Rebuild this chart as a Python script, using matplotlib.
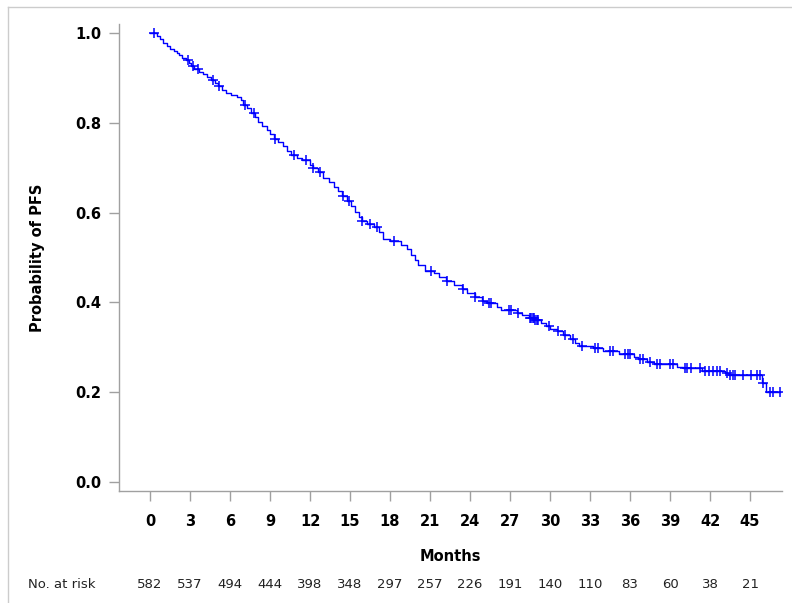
import numpy as np
import matplotlib
matplotlib.use("Agg")
import matplotlib.pyplot as plt
from matplotlib.lines import Line2D

# Kaplan-Meier step points (month, survival after the drop)
event_months = [0.0, 0.5, 0.75, 1.0, 1.25, 1.5, 1.8, 2.0, 2.2, 2.4, 2.7, 2.9,
                3.1, 3.3, 3.7, 4.0, 4.3, 4.6, 4.9, 5.1, 5.4, 5.7, 6.1, 6.5,
                6.8, 7.0, 7.3, 7.6, 7.9, 8.1, 8.4, 8.75, 9.0, 9.3, 9.6, 10.0,
                10.3, 10.6, 11.0, 11.4, 12.0, 12.2, 12.6, 13.0, 13.4, 13.8,
                14.1, 14.4, 14.8, 15.1, 15.4, 15.7, 15.9, 16.3, 16.8, 17.2,
                17.5, 18.0, 18.8, 19.3, 19.6, 19.9, 20.1, 20.6, 21.3, 21.7,
                22.2, 22.8, 23.4, 23.8, 24.4, 24.9, 25.3, 26.0, 26.3, 27.5,
                27.9, 28.4, 28.9, 29.3, 29.7, 30.0, 30.5, 31.0, 31.5, 31.9,
                32.2, 33.2, 34.0, 35.2, 36.3, 36.6, 37.3, 37.8, 39.5, 40.0,
                41.4, 43.1, 43.4, 45.9, 46.2]
survival = [1.0, 0.993, 0.986, 0.977, 0.970, 0.964, 0.959, 0.955, 0.950, 0.945,
            0.940, 0.934, 0.926, 0.920, 0.914, 0.908, 0.902, 0.896, 0.889,
            0.882, 0.874, 0.866, 0.861, 0.857, 0.850, 0.840, 0.832, 0.822,
            0.812, 0.802, 0.793, 0.784, 0.775, 0.765, 0.757, 0.748, 0.738,
            0.729, 0.722, 0.718, 0.707, 0.699, 0.690, 0.678, 0.668, 0.658,
            0.647, 0.636, 0.626, 0.614, 0.602, 0.590, 0.582, 0.575, 0.567,
            0.556, 0.542, 0.536, 0.527, 0.519, 0.506, 0.494, 0.483, 0.471,
            0.466, 0.456, 0.447, 0.438, 0.429, 0.422, 0.413, 0.403, 0.399,
            0.390, 0.384, 0.377, 0.371, 0.366, 0.360, 0.355, 0.348, 0.340,
            0.336, 0.327, 0.318, 0.310, 0.302, 0.298, 0.292, 0.285, 0.279,
            0.273, 0.268, 0.263, 0.257, 0.253, 0.248, 0.242, 0.238, 0.221,
            0.201]

# censored observations (months)
censor_months = [0.3, 2.83, 3.25, 3.62, 4.75, 5.2, 7.1, 7.8, 9.4, 10.8, 11.7,
                 12.2, 12.75, 14.45, 14.95, 15.9, 16.5, 17.0, 18.3, 21.1,
                 22.25, 23.5, 24.4, 25.0, 25.4, 25.6, 26.9, 27.1, 27.6, 28.5,
                 28.6, 28.7, 28.8, 28.9, 29.0, 29.1, 29.9, 30.6, 31.1, 31.75,
                 32.4, 33.4, 33.6, 34.5, 34.75, 35.6, 35.85, 36.0, 36.75, 37.0,
                 37.5, 38.0, 38.25, 39.0, 39.25, 40.1, 40.3, 40.6, 41.25, 41.6,
                 41.9, 42.2, 42.5, 42.75, 43.25, 43.5, 43.7, 43.9, 44.5, 45.1,
                 45.5, 45.75, 46.0, 46.5, 46.75, 47.25]

tick_months = list(range(0, 46, 3))
at_risk = [582, 537, 494, 444, 398, 348, 297, 257, 226, 191, 140, 110, 83, 60, 38, 21]

grey = "#a0a0a0"
blue = "#0000ff"

fig = plt.figure(figsize=(7.92, 6.03), dpi=100)
ax = fig.add_axes([119 / 792, 1 - 491 / 603, 663 / 792, 467 / 603])

# step curve, extended to last censored time
t = np.array(event_months + [max(censor_months)])
s = np.array(survival + [survival[-1]])
ax.plot(t, s, drawstyle="steps-post", color=blue, lw=1.0)

idx = np.searchsorted(np.array(event_months), censor_months, side="right") - 1
ax.plot(censor_months, np.array(survival)[idx], ls="none", marker="+",
        color=blue, ms=7.5, mew=1.1)

ax.set_xlim(-2.33, 47.4)
ax.set_ylim(-0.02, 1.02)
ax.set_xticks(tick_months)
ax.set_yticks([0.0, 0.2, 0.4, 0.6, 0.8, 1.0])
ax.set_yticklabels(["0.0", "0.2", "0.4", "0.6", "0.8", "1.0"])

for side in ["top", "right"]:
    ax.spines[side].set_visible(False)
for side in ["left", "bottom"]:
    ax.spines[side].set_color(grey)
    ax.spines[side].set_linewidth(1.0)

ax.tick_params(axis="both", colors=grey, length=7, width=1.0)
ax.tick_params(axis="x", pad=9.5)
ax.tick_params(axis="y", pad=6)
for lab in ax.get_xticklabels() + ax.get_yticklabels():
    lab.set_color("black")
    lab.set_fontweight("bold")
    lab.set_fontsize(10.5)

ax.set_xlabel("Months", fontsize=10.5, fontweight="bold")
ax.xaxis.set_label_coords(0.5, -0.124)
ax.set_ylabel("Probability of PFS", fontsize=10.5, fontweight="bold")
ax.yaxis.set_label_coords(-0.111, 0.5)

# number at risk row
trans = ax.get_xaxis_transform()
for m, n in zip(tick_months, at_risk):
    ax.text(m, -0.2, str(n), transform=trans, ha="center", va="center",
            fontsize=9.5, color="#222222")
fig.text(28 / 792, 1 - 584 / 603, "No. at risk", ha="left", va="center",
         fontsize=9.5, color="#222222")

# light frame on top and left of the figure
fig.add_artist(Line2D([8 / 792, 8 / 792], [0, 1 - 7 / 603], color="#cccccc",
                      lw=1.0, transform=fig.transFigure))
fig.add_artist(Line2D([8 / 792, 1], [1 - 7 / 603, 1 - 7 / 603], color="#cccccc",
                      lw=1.0, transform=fig.transFigure))

fig.savefig("out.png", dpi=100)
